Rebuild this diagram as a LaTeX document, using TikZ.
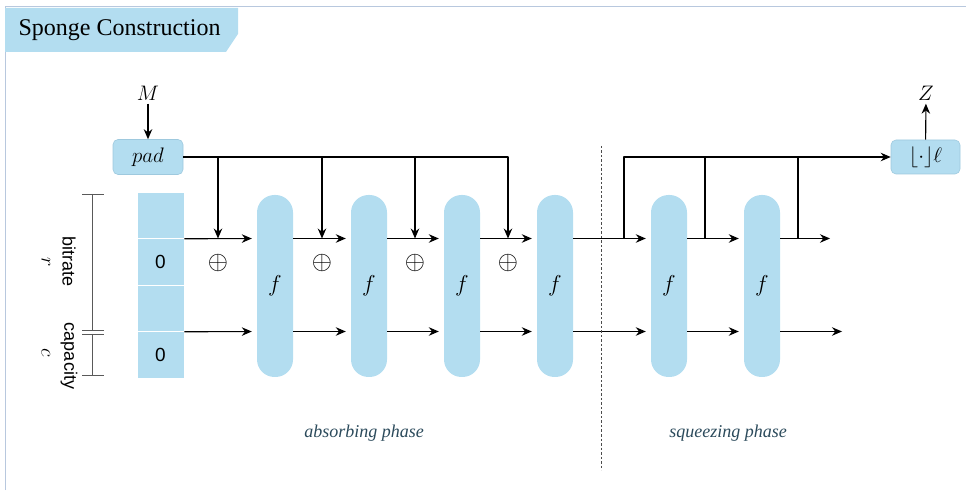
\RequirePackage{fix-cm}
\documentclass[tikz,border=0pt]{standalone}
\usepackage{fontspec}
\setmainfont{Liberation Serif}
\setsansfont{Liberation Sans}
\usetikzlibrary{arrows.meta}
\definecolor{spongeblue}{RGB}{179,221,240}
\definecolor{spongeedge}{RGB}{158,201,222}
\definecolor{framecol}{RGB}{184,200,222}
\definecolor{phasecol}{RGB}{43,74,91}
\tikzset{
  blk/.style={fill=spongeblue, draw=spongeedge, line width=0.6pt, rounded corners=5pt,
    minimum width=70pt, minimum height=35pt, inner sep=0pt},
  fbox/.style={fill=spongeblue, rounded corners=17.5pt, minimum width=36pt,
    minimum height=182pt, inner sep=0pt, font=\fontsize{23}{27}\selectfont},
  cell/.style={fill=spongeblue, draw=white, line width=0.6pt, minimum width=47pt,
    minimum height=46.5pt, inner sep=0pt, font=\sffamily\fontsize{19}{22}\selectfont},
  xor/.style={font=\fontsize{26}{30}\selectfont, inner sep=0pt},
  side/.style={rotate=-90, font=\sffamily\fontsize{18}{22}\selectfont, inner sep=0pt},
  phase/.style={font=\fontsize{18}{22}\selectfont\itshape, text=phasecol},
  ruler/.style={draw=black!65, line width=0.9pt},
  lane/.style={->, line width=1.1pt, shorten >=5pt},
}
\begin{document}
\begin{tikzpicture}[x=1pt, y=1pt, line join=round, >={Stealth[length=10pt,width=8.5pt]},
  font=\fontsize{21}{25}\selectfont]
\useasboundingbox (0,0) rectangle (966,490);
% frame and title tab
\draw[framecol, line width=1pt] (5.5,0) -- (5.5,483) -- (966,483);
\fill[spongeblue] (5,482) -- (238,482) -- (238,456) -- (226,438) -- (5,438) -- cycle;
\node[anchor=west, font=\fontsize{24}{27}\selectfont] (title) at (15,460) {Sponge Construction};

% heights of the two lanes
\coordinate (rate) at (0,251.5);
\coordinate (cap) at (0,158.5);

% state, r bits over c bits
\node[cell] (s1) at (160.5,274.75) {};
\node[cell] (s2) at (160.5,228.25) {0};
\node[cell] (s3) at (160.5,181.75) {};
\node[cell] (s4) at (160.5,135.25) {0};

% ruler on the left
\draw[ruler] (92,296) -- (92,160) (92,156) -- (92,115);
\draw[ruler] (82,296) -- (104,296) (82,160) -- (104,160) (82,156) -- (104,156) (82,115) -- (104,115);
\node[side] (lbit) at (69,228) {bitrate};
\node[side] (lcap) at (69,134) {capacity};
\node[side, font=\fontsize{20}{24}\selectfont] (lr) at (46,228) {$r$};
\node[side, font=\fontsize{20}{24}\selectfont] (lc) at (46,137) {$c$};

% permutations
\node[fbox] (f1) at (275,204) {$f$};
\node[fbox] (f2) at (369,204) {$f$};
\node[fbox] (f3) at (462,204) {$f$};
\node[fbox] (f4) at (555,204) {$f$};
\node[fbox] (f5) at (669,204) {$f$};
\node[fbox] (f6) at (762,204) {$f$};

% input and padding
\node (M) at (148,397) {$M$};
\node[blk] (pad) at (148,333) {$pad$};
\draw[->, line width=1.1pt] (M) -- (pad);

% message blocks xored into the rate lane
\coordinate (x1) at (218,251.5);
\coordinate (x2) at (322,251.5);
\coordinate (x3) at (415,251.5);
\coordinate (x4) at (508,251.5);
\draw[->, line width=1.1pt] (pad) -| (x4);
\draw[->, line width=1.1pt] (x1 |- pad) -- (x1);
\draw[->, line width=1.1pt] (x2 |- pad) -- (x2);
\draw[->, line width=1.1pt] (x3 |- pad) -- (x3);
\node[xor] (o1) at (218,227) {$\oplus$};
\node[xor] (o2) at (322,227) {$\oplus$};
\node[xor] (o3) at (415,227) {$\oplus$};
\node[xor] (o4) at (508,227) {$\oplus$};

% rate lane
\draw[lane] (s1.south east) -- (f1.west |- rate);
\draw[lane] (f1.east |- rate) -- (f2.west |- rate);
\draw[lane] (f2.east |- rate) -- (f3.west |- rate);
\draw[lane] (f3.east |- rate) -- (f4.west |- rate);
\draw[lane] (f4.east |- rate) -- (f5.west |- rate);
\draw[lane] (f5.east |- rate) -- (f6.west |- rate);
\coordinate (zr) at (830,251.5);
\draw[lane, shorten >=0pt] (f6.east |- rate) -- (zr);

% capacity lane
\draw[lane] (s3.south east) -- (f1.west |- cap);
\draw[lane] (f1.east |- cap) -- (f2.west |- cap);
\draw[lane] (f2.east |- cap) -- (f3.west |- cap);
\draw[lane] (f3.east |- cap) -- (f4.west |- cap);
\draw[lane] (f4.east |- cap) -- (f5.west |- cap);
\draw[lane] (f5.east |- cap) -- (f6.west |- cap);
\coordinate (zc) at (842,158.5);
\draw[lane, shorten >=0pt] (f6.east |- cap) -- (zc);

% output taps and truncation
\node[blk, minimum width=69pt, minimum height=34pt] (out) at (925.5,333) {$\lfloor\cdot\rfloor\ell$};
\node (Z) at (926,397) {$Z$};
\draw[->, line width=1.1pt] (out) -- (Z);
\coordinate (t0) at (624,251.5);
\coordinate (t1) at (705,251.5);
\coordinate (t2) at (798,251.5);
\draw[->, line width=1.1pt] (t0) |- (out);
\draw[line width=1.1pt] (t1) -- (t1 |- out);
\draw[line width=1.1pt] (t2) -- (t2 |- out);

% phases
\draw[black!70, line width=0.9pt, dash pattern=on 2.5pt off 2pt] (601,344) -- (601,20);
\node[phase] (absorb) at (364,57) {absorbing phase};
\node[phase] (squeeze) at (728,57) {squeezing phase};
\end{tikzpicture}
\end{document}
